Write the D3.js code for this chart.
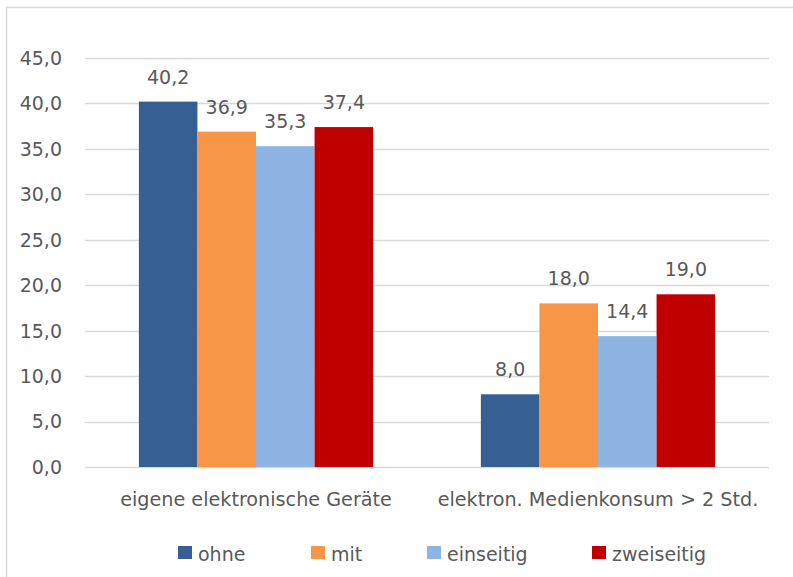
<!DOCTYPE html>
<html>
<head>
  <meta charset="utf-8">
  <script src="https://cdn.jsdelivr.net/npm/d3@7"></script>
  <style>
    body { margin: 0; background: #fff; }
    text { font-family: "DejaVu Sans", sans-serif; fill: #595959; }
  </style>
</head>
<body>
  <script type="text/javascript">
      "use strict";

      // chart data
      var categories = ["eigene elektronische Geräte", "elektron. Medienkonsum > 2 Std."];
      var seriesNames = ["ohne", "mit", "einseitig", "zweiseitig"];
      var seriesColors = ["#366092", "#f79646", "#8eb4e3", "#c00000"];
      var values = {
        "ohne":       [40.2, 8.0],
        "mit":        [36.9, 18.0],
        "einseitig":  [35.3, 14.4],
        "zweiseitig": [37.4, 19.0]
      };
      var yTicks = [0, 5, 10, 15, 20, 25, 30, 35, 40, 45];

      var width = 793, height = 577;
      var plotLeft = 85, plotRight = 769, plotTop = 58, plotBottom = 467;

      var fmt = function(v) { return d3.format(".1f")(v).replace(".", ","); };

      var svg = d3.select("body")
        .append("svg")
          .attr("width", width)
          .attr("height", height);

      // outer chart border
      svg.append("rect")
        .attr("x", 6.5).attr("y", 7.5)
        .attr("width", width + 10).attr("height", height + 10)
        .attr("fill", "none")
        .attr("stroke", "#d9d9d9")
        .attr("stroke-width", 1.5);

      var y = d3.scaleLinear().domain([0, 45]).range([plotBottom, plotTop]);
      var x0 = d3.scaleBand().domain(categories).range([plotLeft, plotRight]);
      var x1 = d3.scaleBand().domain(seriesNames)
        .range([0, x0.bandwidth()])
        .paddingOuter(0.92).paddingInner(0);

      // gridlines
      svg.append("g").selectAll("line")
        .data(yTicks)
        .enter().append("line")
          .attr("x1", plotLeft).attr("x2", plotRight)
          .attr("y1", function(d) { return Math.round(y(d)) + 0.5; })
          .attr("y2", function(d) { return Math.round(y(d)) + 0.5; })
          .attr("stroke", "#d9d9d9")
          .attr("stroke-width", 1.3);

      // y tick labels
      svg.append("g").selectAll("text")
        .data(yTicks)
        .enter().append("text")
          .attr("x", 62)
          .attr("y", function(d) { return y(d); })
          .attr("dy", "0.36em")
          .attr("text-anchor", "end")
          .style("font-size", "19px")
          .text(fmt);

      // bars
      var groups = svg.append("g").selectAll("g")
        .data(seriesNames)
        .enter().append("g")
          .attr("fill", function(d, i) { return seriesColors[i]; });

      groups.selectAll("rect")
        .data(function(s) {
          return categories.map(function(c, j) { return {s: s, c: c, v: values[s][j]}; });
        })
        .enter().append("rect")
          .attr("x", function(d) { return x0(d.c) + x1(d.s); })
          .attr("width", x1.bandwidth())
          .attr("y", function(d) { return y(d.v); })
          .attr("height", function(d) { return y(0) - y(d.v); });

      // data labels
      groups.selectAll("text")
        .data(function(s) {
          return categories.map(function(c, j) { return {s: s, c: c, v: values[s][j]}; });
        })
        .enter().append("text")
          .attr("x", function(d) { return x0(d.c) + x1(d.s) + x1.bandwidth() / 2; })
          .attr("y", function(d) { return y(d.v) - 18; })
          .attr("text-anchor", "middle")
          .style("font-size", "19px")
          .text(function(d) { return fmt(d.v); });

      // category labels
      svg.append("g").selectAll("text")
        .data(categories)
        .enter().append("text")
          .attr("x", function(d) { return x0(d) + x0.bandwidth() / 2; })
          .attr("y", 506)
          .attr("text-anchor", "middle")
          .style("font-size", "19.2px")
          .text(function(d) { return d; });

      // legend
      var legendX = [178, 311, 427, 592];
      var legend = svg.append("g").selectAll("g")
        .data(seriesNames)
        .enter().append("g")
          .attr("transform", function(d, i) { return "translate(" + legendX[i] + ",546)"; });
      legend.append("rect")
        .attr("width", 14).attr("height", 13)
        .attr("fill", function(d, i) { return seriesColors[i]; });
      legend.append("text")
        .attr("x", 20).attr("y", 10)
        .attr("dy", "0.25em")
        .style("font-size", "19px")
        .text(function(d) { return d; });
  </script>
</body>
</html>
